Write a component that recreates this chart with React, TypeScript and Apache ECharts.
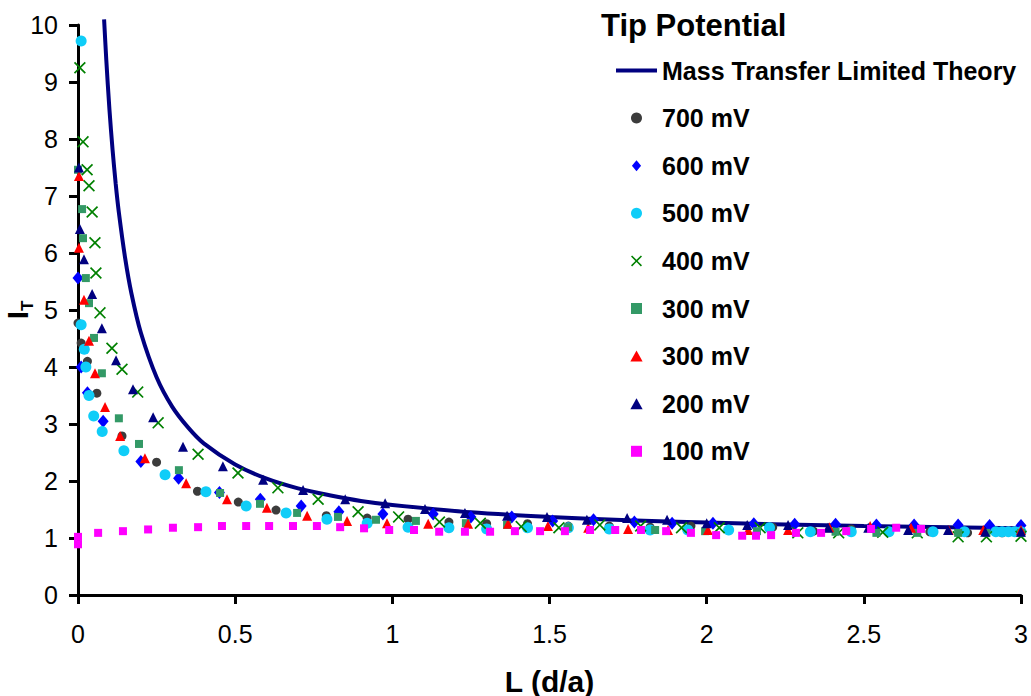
import React, { useEffect, useRef } from "react";
import * as echarts from "echarts";

const FONT = "'Liberation Sans', Arial, Helvetica, sans-serif";

// x axis / y axis ranges
const xMin = 0, xMax = 3, xStep = 0.5;
const yMin = 0, yMax = 10, yStep = 1;

// Legend labels (series ids -> displayed label)
const seriesIds = ["theory", "mv700", "mv600", "mv500", "mv400", "mv300a", "mv300b", "mv200", "mv100"];
const seriesLabels = [
  "Mass Transfer Limited Theory",
  "700 mV",
  "600 mV",
  "500 mV",
  "400 mV",
  "300 mV",
  "300 mV",
  "200 mV",
  "100 mV",
];

// Mass transfer limited theory curve
const theoryL = [0.083, 0.09, 0.1, 0.11, 0.12, 0.13, 0.15, 0.17, 0.2, 0.25, 0.3, 0.35, 0.4, 0.5, 0.6, 0.7, 0.8, 0.9, 1.0, 1.25, 1.5, 1.75, 2.0, 2.5, 3.0];
const theoryI = [10.1, 9.39, 8.52, 7.81, 7.21, 6.71, 5.91, 5.29, 4.6, 3.82, 3.3, 2.94, 2.66, 2.29, 2.04, 1.87, 1.75, 1.65, 1.58, 1.45, 1.37, 1.31, 1.27, 1.21, 1.17];

const mv700: number[][] = [
  [0, 4.77], [0.01, 4.42], [0.03, 4.1], [0.06, 3.54], [0.14, 2.79], [0.25, 2.33], [0.38, 1.82], [0.51, 1.63],
  [0.63, 1.49], [0.79, 1.39], [0.92, 1.35], [1.05, 1.33], [1.18, 1.28], [1.3, 1.25], [1.43, 1.25], [1.56, 1.21],
  [1.69, 1.21], [1.82, 1.19], [1.95, 1.21], [2.07, 1.14], [2.21, 1.19], [2.34, 1.12], [2.46, 1.16], [2.58, 1.11],
  [2.71, 1.11], [2.83, 1.09], [2.94, 1.09],
];
const mv600: number[][] = [
  [0, 5.56], [0.01, 4.0], [0.03, 3.55], [0.08, 3.05], [0.2, 2.34], [0.32, 2.05], [0.45, 1.8], [0.58, 1.68],
  [0.71, 1.56], [0.83, 1.46], [0.97, 1.42], [1.13, 1.42], [1.25, 1.37], [1.38, 1.37], [1.51, 1.3], [1.64, 1.32],
  [1.77, 1.28], [1.89, 1.26], [2.02, 1.26], [2.15, 1.25], [2.28, 1.24], [2.41, 1.24], [2.54, 1.23], [2.66, 1.23],
  [2.8, 1.23], [2.9, 1.22], [3.0, 1.22],
];
const mv500: number[][] = [
  [0.01, 9.72], [0.01, 4.74], [0.02, 4.31], [0.025, 4.0], [0.035, 3.5], [0.05, 3.14], [0.077, 2.87], [0.146, 2.53],
  [0.277, 2.11], [0.407, 1.81], [0.535, 1.56], [0.662, 1.44], [0.792, 1.33], [0.92, 1.26], [1.05, 1.19], [1.18, 1.18],
  [1.3, 1.16], [1.43, 1.18], [1.56, 1.18], [1.69, 1.16], [1.82, 1.14], [1.94, 1.14], [2.07, 1.14], [2.2, 1.18],
  [2.33, 1.11], [2.46, 1.11], [2.58, 1.11], [2.72, 1.11], [2.82, 1.11], [2.92, 1.11], [2.94, 1.11], [2.96, 1.11],
  [2.98, 1.11], [3.0, 1.11],
];
const mv400: number[][] = [
  [0.006, 9.25], [0.016, 7.95], [0.029, 7.46], [0.035, 7.18], [0.045, 6.72], [0.054, 6.18], [0.057, 5.65], [0.07, 4.95],
  [0.108, 4.33], [0.14, 3.96], [0.19, 3.56], [0.255, 3.02], [0.382, 2.47], [0.509, 2.14], [0.636, 1.88], [0.764, 1.68],
  [0.891, 1.46], [1.02, 1.37], [1.15, 1.28], [1.28, 1.26], [1.41, 1.2], [1.53, 1.18], [1.66, 1.23], [1.79, 1.21],
  [1.92, 1.18], [2.04, 1.18], [2.17, 1.18], [2.29, 1.09], [2.42, 1.09], [2.56, 1.1], [2.67, 1.09], [2.8, 1.02],
  [2.89, 1.02], [3.0, 1.03],
];
const mv300a: number[][] = [
  [0, 7.46], [0.013, 6.77], [0.016, 6.26], [0.025, 5.56], [0.035, 5.12], [0.051, 4.51], [0.076, 3.89], [0.13, 3.1],
  [0.194, 2.65], [0.321, 2.19], [0.452, 1.79], [0.579, 1.6], [0.697, 1.44], [0.827, 1.37], [0.948, 1.32], [1.075, 1.3],
  [1.234, 1.26], [1.365, 1.23], [1.559, 1.19], [1.836, 1.14], [1.995, 1.12], [2.16, 1.12], [2.41, 1.11], [2.54, 1.09],
  [2.67, 1.09], [2.8, 1.09], [2.89, 1.09], [3.0, 1.09],
];
const mv300b: number[][] = [
  [0.003, 7.35], [0.003, 6.09], [0.019, 5.18], [0.035, 4.46], [0.054, 3.89], [0.086, 3.3], [0.134, 2.79], [0.213, 2.4],
  [0.344, 1.96], [0.474, 1.68], [0.601, 1.53], [0.729, 1.39], [0.856, 1.3], [0.983, 1.26], [1.114, 1.25], [1.241, 1.25],
  [1.368, 1.25], [1.495, 1.21], [1.623, 1.18], [1.75, 1.16], [1.877, 1.14], [2.004, 1.14], [2.132, 1.14], [2.259, 1.14],
  [2.39, 1.19], [2.52, 1.21], [2.65, 1.18], [2.77, 1.14], [2.88, 1.14], [3.0, 1.14],
];
const mv200: number[][] = [
  [0.003, 7.5], [0.006, 6.42], [0.019, 5.89], [0.045, 5.28], [0.076, 4.68], [0.121, 4.12], [0.175, 3.61], [0.239, 3.12],
  [0.334, 2.6], [0.461, 2.26], [0.589, 2.02], [0.716, 1.84], [0.85, 1.68], [0.977, 1.61], [1.104, 1.51], [1.231, 1.44],
  [1.365, 1.39], [1.492, 1.37], [1.619, 1.32], [1.747, 1.35], [1.874, 1.32], [2.0, 1.26], [2.129, 1.23], [2.259, 1.23],
  [2.386, 1.18], [2.514, 1.18], [2.641, 1.14], [2.768, 1.14], [2.886, 1.11], [3.0, 1.11],
];
const mv100: number[][] = [
  [0, 1.02], [0, 0.89], [0.064, 1.09], [0.143, 1.12], [0.223, 1.15], [0.302, 1.18], [0.382, 1.19], [0.458, 1.21],
  [0.535, 1.21], [0.608, 1.21], [0.684, 1.21], [0.76, 1.21], [0.834, 1.19], [0.91, 1.17], [0.99, 1.14], [1.069, 1.14],
  [1.149, 1.11], [1.231, 1.11], [1.311, 1.11], [1.39, 1.12], [1.47, 1.12], [1.549, 1.12], [1.629, 1.14], [1.709, 1.14],
  [1.791, 1.14], [1.871, 1.12], [1.95, 1.09], [2.03, 1.05], [2.113, 1.04], [2.157, 1.04], [2.205, 1.05], [2.284, 1.09],
  [2.364, 1.09], [2.444, 1.12], [2.523, 1.16], [2.603, 1.18], [2.682, 1.16],
];

const X_PATH = "path://M0,1 L1,0 L5,4 L9,0 L10,1 L6,5 L10,9 L9,10 L5,6 L1,10 L0,9 L4,5 Z";
const DIAMOND_PATH = "path://M5,0 L10,6 L5,12 L0,6 Z";
const TRI_PATH = "path://M5,0 L10,9 L0,9 Z";
const SQUARE_PATH = "path://M0,0 H8 V8 H0 Z";
const LINE_PATH = "path://M0,0 H40 V4 H0 Z";

export default function App() {
  const ref = useRef<HTMLDivElement>(null);
  useEffect(() => {
    document.body.style.margin = "0";
    if (!ref.current) return;
    const chart = echarts.init(ref.current, undefined, { renderer: "svg" });
    const labelMap: Record<string, string> = {};
    seriesIds.forEach((id, i) => (labelMap[id] = seriesLabels[i]));

    const scatter = (id: string, data: number[][], color: string, symbol: string, size: number | number[]) => ({
      type: "scatter",
      name: id,
      data,
      symbol,
      symbolSize: size,
      itemStyle: { color, opacity: 1 },
      clip: false,
    });

    chart.setOption({
      animation: false,
      backgroundColor: "#ffffff",
      textStyle: { fontFamily: FONT },
      title: {
        text: "Tip Potential",
        left: 596,
        top: 5,
        textStyle: { fontFamily: FONT, fontSize: 31, fontWeight: "bold", color: "#000" },
      },
      legend: {
        orient: "vertical",
        left: 616,
        top: 58,
        padding: 0,
        itemWidth: 41,
        itemHeight: 11,
        itemGap: 22.6,
        symbolKeepAspect: true,
        formatter: (name: string) => labelMap[name] ?? name,
        textStyle: { fontFamily: FONT, fontSize: 25, fontWeight: "bold", color: "#000" },
        data: [
          { name: "theory", icon: LINE_PATH },
          { name: "mv700", icon: "circle" },
          { name: "mv600", icon: DIAMOND_PATH },
          { name: "mv500", icon: "circle" },
          { name: "mv400", icon: X_PATH },
          { name: "mv300a", icon: SQUARE_PATH },
          { name: "mv300b", icon: TRI_PATH },
          { name: "mv200", icon: TRI_PATH },
          { name: "mv100", icon: SQUARE_PATH },
        ],
      },
      grid: { left: 78, top: 25, width: 943, height: 570, containLabel: false, outerBoundsMode: "none" },
      xAxis: {
        type: "value",
        min: xMin,
        max: xMax,
        interval: xStep,
        name: "L (d/a)",
        nameLocation: "middle",
        nameGap: 71,
        nameMoveOverlap: false,
        nameTextStyle: { fontFamily: FONT, fontSize: 30, fontWeight: "bold", color: "#000" },
        axisLine: { show: true, onZero: false, lineStyle: { color: "#000", width: 3 } },
        axisTick: { show: true, length: 9, lineStyle: { color: "#000", width: 3 } },
        axisLabel: { fontFamily: FONT, fontSize: 25, color: "#000", margin: 26 },
        splitLine: { show: false },
      },
      yAxis: {
        type: "value",
        min: yMin,
        max: yMax,
        interval: yStep,
        name: "{a|I}{b|T}",
        nameLocation: "middle",
        nameGap: 46,
        nameMoveOverlap: false,
        nameRotate: 90,
        nameTextStyle: {
          color: "#000",
          rich: {
            a: { fontFamily: FONT, fontSize: 30, fontWeight: "bold", color: "#000" },
            b: { fontFamily: FONT, fontSize: 17, fontWeight: "bold", color: "#000", verticalAlign: "bottom", padding: [0, 0, -4, 0] },
          },
        },
        axisLine: { show: true, onZero: false, lineStyle: { color: "#000", width: 3 } },
        axisTick: { show: true, length: 9, lineStyle: { color: "#000", width: 3 } },
        axisLabel: { fontFamily: FONT, fontSize: 25, color: "#000", margin: 20 },
        splitLine: { show: false },
      },
      series: [
        {
          type: "line",
          name: "theory",
          data: theoryL.map((l, i) => [l, theoryI[i]]),
          smooth: 0.3,
          showSymbol: false,
          symbol: "none",
          clip: false,
          lineStyle: { color: "#000080", width: 4 },
          itemStyle: { color: "#000080" },
          z: 1,
        },
        scatter("mv700", mv700, "#3c3c3c", "circle", 9),
        scatter("mv600", mv600, "#0000ff", "diamond", [11, 13]),
        scatter("mv500", mv500, "#0fcdf8", "circle", 11),
        scatter("mv400", mv400, "#008000", X_PATH, 12),
        scatter("mv300a", mv300a, "#339966", "rect", 8),
        scatter("mv300b", mv300b, "#ff0000", "triangle", 10),
        scatter("mv200", mv200, "#000080", "triangle", 10),
        scatter("mv100", mv100, "#ff00ff", "rect", 8),
      ],
    });
    return () => chart.dispose();
  }, []);
  return <div ref={ref} style={{ width: 1031, height: 696 }} />;
}
